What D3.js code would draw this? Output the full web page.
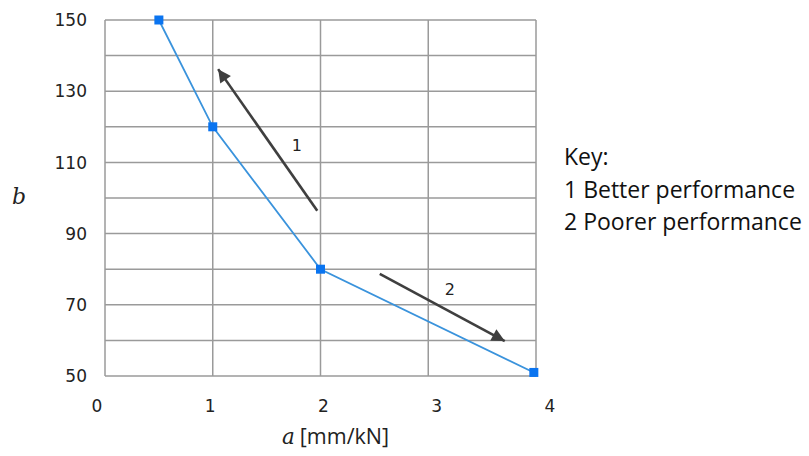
<!DOCTYPE html>
<html>
<head>
<meta charset="utf-8">
<script src="https://cdn.jsdelivr.net/npm/d3@7"></script>
<style>
  html, body { margin: 0; padding: 0; background: #fff; }
  svg { display: block; }
</style>
</head>
<body>
<svg id="chart" width="809" height="456"></svg>
<script>
// ---- data ----
const aValues = [0.5, 1, 2, 3.98];
const bValues = [150, 120, 80, 51];
const xTicks = [0, 1, 2, 3, 4];
const yTicks = [50, 70, 90, 110, 130, 150];
const yGrid = [50, 60, 70, 80, 90, 100, 110, 120, 130, 140, 150];
// arrows in data units (start -> tip)
const arrowLabels = ["1", "2"];
const arrowStartA = [1.97, 2.55];
const arrowStartB = [96.4, 78.7];
const arrowEndA = [1.05, 3.71];
const arrowEndB = [136.2, 59.8];
const arrowLabelA = [1.78, 3.2];
const arrowLabelB = [114.9, 74.4];
const keyLines = ["Key:", "1 Better performance", "2 Poorer performance"];

// ---- layout ----
const svg = d3.select("#chart");
const x = d3.scaleLinear().domain([0, 4]).range([105, 536]);
const y = d3.scaleLinear().domain([50, 150]).range([376, 20]);
const xLabel = d3.scaleLinear().domain([0, 4]).range([97, 550]);

const grid = svg.append("g");
grid.selectAll("line.v").data(xTicks).enter().append("line")
  .attr("x1", d => x(d)).attr("x2", d => x(d))
  .attr("y1", y(150)).attr("y2", y(50))
  .attr("stroke", "#9a9a9a").attr("stroke-width", 1.5);
grid.selectAll("line.h").data(yGrid).enter().append("line")
  .attr("x1", x(0)).attr("x2", x(4))
  .attr("y1", d => y(d)).attr("y2", d => y(d))
  .attr("stroke", "#9a9a9a").attr("stroke-width", 1.5);

// tick labels
svg.append("g").selectAll("text").data(yTicks).enter().append("text")
  .attr("x", 87).attr("y", d => y(d)).attr("dy", "0.36em")
  .attr("text-anchor", "end")
  .attr("font-family", "DejaVu Sans").attr("font-size", 17)
  .attr("fill", "#222").text(d => d);
svg.append("g").selectAll("text").data(xTicks).enter().append("text")
  .attr("x", d => xLabel(d)).attr("y", 412)
  .attr("text-anchor", "middle")
  .attr("font-family", "DejaVu Sans").attr("font-size", 17)
  .attr("fill", "#222").text(d => d);

// axis titles
svg.append("text").attr("x", 12).attr("y", 204)
  .attr("font-family", "DejaVu Serif").attr("font-style", "italic")
  .attr("font-size", 22).attr("fill", "#222").text("b");
const at = svg.append("text").attr("x", 282).attr("y", 444)
  .attr("font-size", 21.5).attr("fill", "#222");
at.append("tspan").attr("font-family", "DejaVu Serif").attr("font-style", "italic").text("a");
at.append("tspan").attr("font-family", "Open Sans").attr("dx", 5).text("[mm/kN]");

// arrow marker
svg.append("defs").append("marker")
  .attr("id", "ah").attr("viewBox", "0 0 10 10")
  .attr("refX", 10).attr("refY", 5)
  .attr("markerUnits", "userSpaceOnUse")
  .attr("markerWidth", 15).attr("markerHeight", 13)
  .attr("orient", "auto")
  .append("path").attr("d", "M0,0 L10,5 L0,10 Z").attr("fill", "#3f3f3f");

const arrows = arrowLabels.map((l, i) => ({
  l, x1: arrowStartA[i], y1: arrowStartB[i], x2: arrowEndA[i], y2: arrowEndB[i],
  lx: arrowLabelA[i], ly: arrowLabelB[i]
}));
svg.append("g").selectAll("line").data(arrows).enter().append("line")
  .attr("x1", d => x(d.x1)).attr("y1", d => y(d.y1))
  .attr("x2", d => x(d.x2)).attr("y2", d => y(d.y2))
  .attr("stroke", "#3f3f3f").attr("stroke-width", 2.6)
  .attr("marker-end", "url(#ah)");
svg.append("g").selectAll("text").data(arrows).enter().append("text")
  .attr("x", d => x(d.lx)).attr("y", d => y(d.ly)).attr("dy", "0.36em")
  .attr("text-anchor", "middle")
  .attr("font-family", "DejaVu Sans").attr("font-size", 16)
  .attr("fill", "#222").text(d => d.l);

// series
const pts = aValues.map((a, i) => [a, bValues[i]]);
svg.append("path").datum(pts)
  .attr("d", d3.line().x(d => x(d[0])).y(d => y(d[1])))
  .attr("fill", "none").attr("stroke", "#3a93dc").attr("stroke-width", 1.8);
svg.append("g").selectAll("rect").data(pts).enter().append("rect")
  .attr("x", d => x(d[0]) - 4.5).attr("y", d => y(d[1]) - 4.5)
  .attr("width", 9).attr("height", 9).attr("fill", "#0a74f0");

// key
svg.append("g").selectAll("text").data(keyLines).enter().append("text")
  .attr("x", 564).attr("y", (d, i) => 165 + i * 32.5)
  .attr("font-family", "Open Sans").attr("font-size", 23)
  .attr("fill", "#111").text(d => d);
</script>
</body>
</html>
